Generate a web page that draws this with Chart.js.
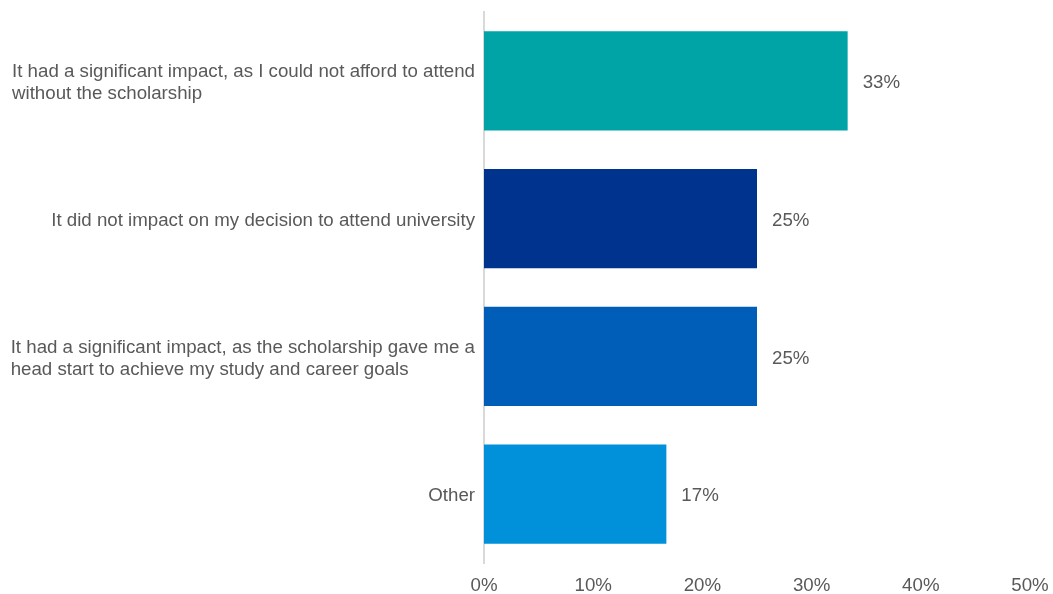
<!DOCTYPE html>
<html>
<head>
<meta charset="utf-8">
<script src="https://cdn.jsdelivr.net/npm/chart.js@4"></script>
<style>
  html, body { margin: 0; padding: 0; background: #ffffff; }
  #wrap { width: 1053px; height: 594px; }
</style>
</head>
<body>
<div id="wrap"><canvas id="bar-chart"></canvas></div>
<script>
const answers = [
  ["It had a significant impact, as I could not afford to attend", "without the scholarship"],
  "It did not impact on my decision to attend university",
  ["It had a significant impact, as the scholarship gave me a", "head start to achieve my study and career goals"],
  "Other",
];

const shares = [33.3, 25.0, 25.0, 16.7];

const barColors = ["#00a4a6", "#00338d", "#005eb8", "#0091da"];

const axisTicks = [0, 10, 20, 30, 40, 50];

const textColor = "#595959";
const fontFamily = "'Liberation Sans', Arial, sans-serif";
const fontSize = 18.7;
const lineGap = 22;
const textNudge = 2;

// writes the rounded percentage just past the end of each bar
const valueLabels = {
  id: "valueLabels",
  afterDatasetsDraw(chart) {
    const ctx = chart.ctx;
    const meta = chart.getDatasetMeta(0);
    ctx.save();
    ctx.font = fontSize + "px " + fontFamily;
    ctx.fillStyle = textColor;
    ctx.textAlign = "left";
    ctx.textBaseline = "middle";
    meta.data.forEach((bar, i) => {
      ctx.fillText(Math.round(shares[i]) + "%", bar.x + 15, bar.y + textNudge);
    });
    ctx.restore();
  },
};

// category names: block sits against the axis, lines inside it start flush left
const categoryLabels = {
  id: "categoryLabels",
  afterDraw(chart) {
    const ctx = chart.ctx;
    const yScale = chart.scales.y;
    const right = yScale.right - 9;
    ctx.save();
    ctx.font = fontSize + "px " + fontFamily;
    ctx.fillStyle = textColor;
    ctx.textAlign = "left";
    ctx.textBaseline = "middle";
    answers.forEach((label, i) => {
      const lines = Array.isArray(label) ? label : [label];
      const widest = Math.max(...lines.map((l) => ctx.measureText(l).width));
      const x = right - widest;
      const cy = yScale.getPixelForValue(i) + textNudge;
      const y0 = cy - ((lines.length - 1) * lineGap) / 2;
      lines.forEach((line, j) => {
        ctx.fillText(line, x, y0 + j * lineGap);
      });
    });
    ctx.restore();
  },
};

const myChart = new Chart("bar-chart", {
  type: "bar",
  data: {
    labels: answers,
    datasets: [
      {
        data: shares,
        backgroundColor: barColors,
        borderWidth: 0,
        barPercentage: 0.72,
        categoryPercentage: 1.0,
      },
    ],
  },
  options: {
    indexAxis: "y",
    responsive: true,
    maintainAspectRatio: false,
    animation: false,
    layout: {
      padding: { top: 12, right: 23, bottom: 0, left: 0 },
    },
    scales: {
      x: {
        min: 0,
        max: 50,
        afterBuildTicks: (axis) => {
          axis.ticks = axisTicks.map((v) => ({ value: v }));
        },
        afterFit: (axis) => {
          axis.height = 31;
          axis.paddingLeft = 0;
          axis.paddingRight = 0;
        },
        grid: { display: false, drawTicks: false },
        border: { display: false },
        ticks: {
          padding: 12,
          color: textColor,
          font: { family: fontFamily, size: fontSize },
          callback: (v) => v + "%",
        },
      },
      y: {
        afterFit: (axis) => {
          axis.width = 484;
        },
        grid: { display: false, drawTicks: false },
        border: { color: "#d9d9d9", width: 2 },
        ticks: { display: false },
      },
    },
    plugins: {
      legend: { display: false },
      tooltip: { enabled: false },
    },
  },
  plugins: [valueLabels, categoryLabels],
});
</script>
</body>
</html>
